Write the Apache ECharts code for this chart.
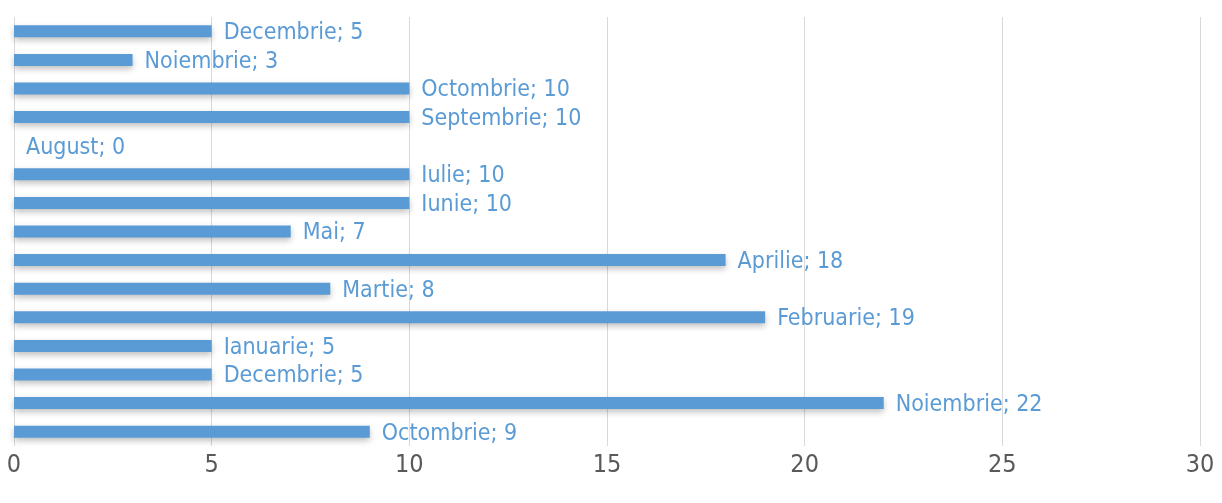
<!DOCTYPE html>
<html>
<head>
<meta charset="utf-8">
<script src="https://cdn.jsdelivr.net/npm/echarts@6/dist/echarts.min.js"></script>
<style>html,body{margin:0;padding:0;background:#fff;}#c{width:1222px;height:503px;}</style>
</head>
<body>
<div id="c"></div>
<script>
// bottom to top
const months = ['Octombrie','Noiembrie','Decembrie','Ianuarie','Februarie','Martie','Aprilie','Mai','Iunie','Iulie','August','Septembrie','Octombrie','Noiembrie','Decembrie'];
const values = [9,22,5,5,19,8,18,7,10,10,0,10,10,3,5];
const xTicks = [0,5,10,15,20,25,30];
const FONT = '"DejaVu Sans Condensed", "DejaVu Sans", sans-serif';

const chart = echarts.init(document.getElementById('c'));
chart.setOption({
  animation:false,
  grid:{left:14,right:22,top:17,bottom:57,containLabel:false},
  xAxis:{type:'value',min:xTicks[0],max:xTicks[xTicks.length-1],interval:5,
    axisLine:{show:false},axisTick:{show:false},
    splitLine:{show:true,lineStyle:{color:'#d9d9d9',width:1}},
    axisLabel:{color:'#595959',fontSize:25,fontFamily:FONT,margin:7}},
  yAxis:{type:'category',data:months.map((m,i)=>String(i)),
    axisLine:{show:false},axisTick:{show:false},axisLabel:{show:false},splitLine:{show:false}},
  series:[{type:'bar',data:values,barWidth:12,
    itemStyle:{color:'#5b9bd5',shadowColor:'rgba(0,0,0,0.25)',shadowBlur:6,shadowOffsetY:3},
    label:{show:true,position:'right',distance:12,color:'#5b9bd5',fontSize:23,
      fontFamily:FONT,offset:[0,2],
      formatter:p=>months[p.dataIndex]+'; '+values[p.dataIndex]}}]
});
</script>
</body>
</html>
